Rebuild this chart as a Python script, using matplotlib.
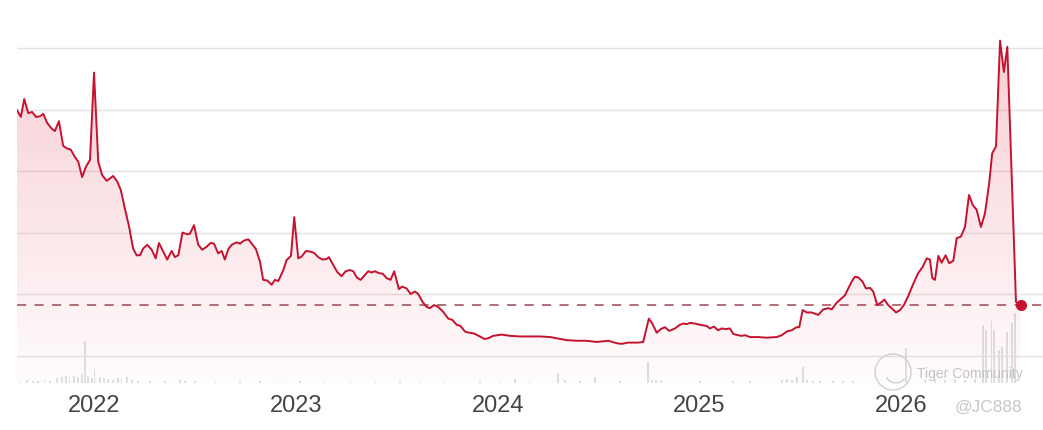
import numpy as np
import matplotlib.pyplot as plt
from matplotlib.patches import Circle, Arc

# weekly price, x in decimal years
dates = [2021.614, 2021.635, 2021.652, 2021.672, 2021.691, 2021.710, 2021.730, 2021.746,
         2021.766, 2021.788, 2021.804, 2021.824, 2021.845, 2021.862, 2021.882, 2021.903,
         2021.920, 2021.939, 2021.958, 2021.978, 2021.998, 2022.019, 2022.039, 2022.061,
         2022.077, 2022.093, 2022.113, 2022.131, 2022.151, 2022.171, 2022.192, 2022.209,
         2022.226, 2022.242, 2022.262, 2022.284, 2022.304, 2022.320, 2022.341, 2022.361,
         2022.383, 2022.399, 2022.416, 2022.437, 2022.460, 2022.474, 2022.494, 2022.515,
         2022.535, 2022.557, 2022.576, 2022.593, 2022.614, 2022.631, 2022.647, 2022.664,
         2022.681, 2022.705, 2022.722, 2022.742, 2022.763, 2022.780, 2022.801, 2022.821,
         2022.837, 2022.857, 2022.879, 2022.895, 2022.912, 2022.937, 2022.953, 2022.975,
         2022.991, 2023.011, 2023.028, 2023.049, 2023.069, 2023.089, 2023.110, 2023.132,
         2023.152, 2023.163, 2023.185, 2023.204, 2023.226, 2023.246, 2023.267, 2023.284,
         2023.301, 2023.320, 2023.342, 2023.358, 2023.375, 2023.391, 2023.411, 2023.430,
         2023.449, 2023.469, 2023.487, 2023.510, 2023.527, 2023.549, 2023.568, 2023.590,
         2023.606, 2023.628, 2023.648, 2023.664, 2023.684, 2023.705, 2023.730, 2023.755,
         2023.775, 2023.797, 2023.816, 2023.838, 2023.859, 2023.882, 2023.912, 2023.934,
         2023.953, 2023.978, 2024.020, 2024.061, 2024.111, 2024.161, 2024.210, 2024.260,
         2024.293, 2024.342, 2024.392, 2024.441, 2024.491, 2024.549, 2024.590, 2024.615,
         2024.648, 2024.698, 2024.722, 2024.750, 2024.767, 2024.789, 2024.809, 2024.830,
         2024.851, 2024.879, 2024.904, 2024.921, 2024.938, 2024.954, 2024.979, 2025.003,
         2025.037, 2025.053, 2025.073, 2025.094, 2025.111, 2025.132, 2025.152, 2025.169,
         2025.193, 2025.210, 2025.227, 2025.252, 2025.293, 2025.334, 2025.384, 2025.409,
         2025.434, 2025.458, 2025.483, 2025.496, 2025.513, 2025.533, 2025.558, 2025.590,
         2025.615, 2025.640, 2025.657, 2025.682, 2025.706, 2025.723, 2025.739, 2025.756,
         2025.772, 2025.789, 2025.810, 2025.827, 2025.847, 2025.863, 2025.883, 2025.905,
         2025.918, 2025.937, 2025.954, 2025.976, 2025.996, 2026.015, 2026.037, 2026.062,
         2026.086, 2026.108, 2026.128, 2026.144, 2026.156, 2026.169, 2026.186, 2026.202,
         2026.222, 2026.240, 2026.260, 2026.277, 2026.297, 2026.318, 2026.338, 2026.356,
         2026.376, 2026.397, 2026.417, 2026.438, 2026.453, 2026.472, 2026.492, 2026.511,
         2026.528, 2026.571, 2026.594]
price = [50.0, 48.8, 51.7, 49.4, 49.6, 48.8, 48.9, 49.3,
         47.8, 46.9, 46.5, 48.1, 44.1, 43.7, 43.5, 42.3,
         41.5, 39.0, 40.7, 41.8, 56.0, 41.5, 39.3, 38.4,
         38.8, 39.2, 38.3, 36.9, 33.9, 31.1, 27.4, 26.3,
         26.3, 27.4, 28.0, 27.2, 25.8, 28.3, 26.9, 25.6,
         27.0, 26.0, 26.3, 30.0, 29.7, 29.8, 31.2, 28.0,
         27.2, 27.7, 28.3, 28.2, 26.6, 27.0, 25.6, 27.3,
         28.0, 28.4, 28.2, 28.7, 28.9, 28.2, 27.3, 25.3,
         22.3, 22.2, 21.5, 22.3, 22.1, 23.9, 25.5, 26.2,
         32.5, 25.8, 26.1, 27.0, 26.9, 26.7, 26.0, 25.6,
         25.7, 26.0, 24.7, 23.6, 22.9, 23.7, 23.9, 23.7,
         22.7, 22.3, 23.1, 23.7, 23.5, 23.7, 23.4, 23.3,
         22.6, 22.3, 23.7, 20.8, 21.2, 20.9, 20.0, 20.4,
         20.0, 18.7, 17.9, 17.7, 18.2, 17.9, 17.1, 16.0,
         15.8, 15.0, 14.8, 13.9, 13.7, 13.6, 13.1, 12.7,
         12.8, 13.2, 13.4, 13.2, 13.1, 13.1, 13.1, 13.0,
         12.8, 12.5, 12.4, 12.4, 12.2, 12.4, 12.0, 11.9,
         12.1, 12.1, 12.2, 16.0, 15.2, 13.7, 14.3, 14.6,
         14.0, 14.4, 15.0, 15.2, 15.1, 15.3, 15.2, 15.0,
         14.8, 14.4, 14.7, 14.1, 14.4, 14.3, 14.4, 13.5,
         13.3, 13.2, 13.3, 13.0, 13.0, 12.9, 13.0, 13.3,
         13.9, 14.1, 14.6, 14.6, 17.4, 17.0, 17.0, 16.6,
         17.5, 17.7, 17.5, 18.6, 19.3, 19.8, 20.9, 22.0,
         22.8, 22.7, 22.0, 20.9, 21.0, 20.4, 18.2, 18.7,
         19.1, 18.2, 17.7, 17.0, 17.4, 18.2, 19.7, 21.7,
         23.4, 24.4, 25.8, 25.6, 22.6, 22.3, 26.2, 25.1,
         26.3, 25.0, 25.4, 29.1, 29.3, 30.9, 36.1, 34.5,
         33.7, 30.9, 33.1, 38.0, 42.9, 44.0, 61.2, 56.1,
         60.2, 18.7, 18.2]

# volume bars
vol_dates = [2021.630, 2021.665, 2021.695, 2021.720, 2021.754, 2021.779, 2021.814, 2021.839,
             2021.859, 2021.878, 2021.898, 2021.918, 2021.938, 2021.953, 2021.968, 2021.988,
             2022.002, 2022.027, 2022.047, 2022.067, 2022.092, 2022.117, 2022.136, 2022.161,
             2022.186, 2022.216, 2022.275, 2022.350, 2022.424, 2022.449, 2022.499, 2022.598,
             2022.722, 2022.821, 2022.920, 2023.019, 2023.143, 2023.267, 2023.391, 2023.515,
             2023.615, 2023.739, 2023.912, 2024.011, 2024.086, 2024.160, 2024.299, 2024.334,
             2024.408, 2024.483, 2024.607, 2024.746, 2024.765, 2024.785, 2024.810, 2025.003,
             2025.167, 2025.251, 2025.410, 2025.435, 2025.460, 2025.485, 2025.514, 2025.534,
             2025.564, 2025.599, 2025.663, 2025.713, 2025.762, 2026.025, 2026.120, 2026.169,
             2026.219, 2026.268, 2026.318, 2026.368, 2026.407, 2026.422, 2026.448, 2026.462,
             2026.487, 2026.501, 2026.526, 2026.551, 2026.566]
volume = [2, 3, 2, 2, 3, 2, 5, 6,
          7, 6, 7, 6, 9, 42, 7, 5,
          14, 6, 5, 4, 3, 5, 4, 6,
          3, 2, 2, 2, 3, 2, 2, 1.5,
          2, 2, 1.5, 2, 1.5, 1.5, 1.5, 2,
          1.5, 1.5, 2, 1.5, 4, 1.5, 10, 3,
          2, 6, 2, 21, 3, 3, 2, 2,
          2, 2, 3, 4, 3, 6, 16, 3,
          2, 2, 2, 2, 2, 35, 3, 4,
          3, 4, 3, 4, 58, 53, 62, 53,
          33, 36, 51, 60, 70]

years = [2022, 2023, 2024, 2025, 2026]

line_color = '#c4122f'
y0, y1 = 5.53, 62.93
x0, x1 = 2021.616, 2026.705

fig = plt.figure(figsize=(10.43, 4.30), dpi=100)
ax = fig.add_axes([17 / 1043, 47 / 430, 1 - 17 / 1043, 353 / 430])

for g in range(10, 61, 10):
    ax.axhline(g, color='#e3e3e3', lw=1.0, zorder=0)

# volume on its own scale
axv = ax.twinx()
axv.set_ylim(0, 353)
axv.bar(vol_dates, volume, width=0.0065, color='#e0e0e0', zorder=1)
axv.axis('off')

# gradient fill below the price line, darker at the top
poly = ax.fill_between(dates, price, y0, color='none', lw=0)
grad = np.zeros((256, 1, 4))
grad[:, 0, 0] = 0.86
grad[:, 0, 1] = 0.10
grad[:, 0, 2] = 0.20
grad[:, 0, 3] = np.linspace(0.22, 0.015, 256)
img = ax.imshow(grad, aspect='auto', extent=[x0, x1, y0, y1],
                origin='upper', zorder=2)
img.set_clip_path(poly.get_paths()[0], transform=ax.transData)
ax.set_xlim(x0, x1)
ax.set_ylim(y0, y1)

ax.plot(dates, price, color=line_color, lw=1.4, zorder=4)
ax.axhline(price[-1], color='#a5555f', lw=1.2, ls=(0, (5.5, 5)), zorder=3)
ax.plot(dates[-1], price[-1], 'o', color=line_color, ms=7, zorder=5)

ax.set_xticks(years)
ax.set_xticklabels([str(y) for y in years], fontsize=17, color='#444444',
                   family='Liberation Sans')
ax.tick_params(axis='x', length=0, pad=9)
ax.set_yticks([])
for s in ax.spines.values():
    s.set_visible(False)
ax.set_zorder(axv.get_zorder() + 1)
ax.patch.set_visible(False)

# watermark
fig.patches.append(Circle((893, 58), 18, transform=None, fill=False,
                          edgecolor='#cfcfcf', lw=1.0))
fig.patches.append(Arc((896, 56), 20, 18, theta1=200, theta2=330, transform=None,
                       edgecolor='#cfcfcf', lw=1.0))
fig.text(917 / 1043, 56 / 430, 'Tiger Community', fontsize=10, color='#c4c4c4',
         family='Liberation Sans', va='center')
fig.text(955 / 1043, 23 / 430, '@JC888', fontsize=12.5, color='#c8c8c8',
         family='Liberation Sans', va='center')

fig.savefig('out.png', dpi=100, facecolor='white')
